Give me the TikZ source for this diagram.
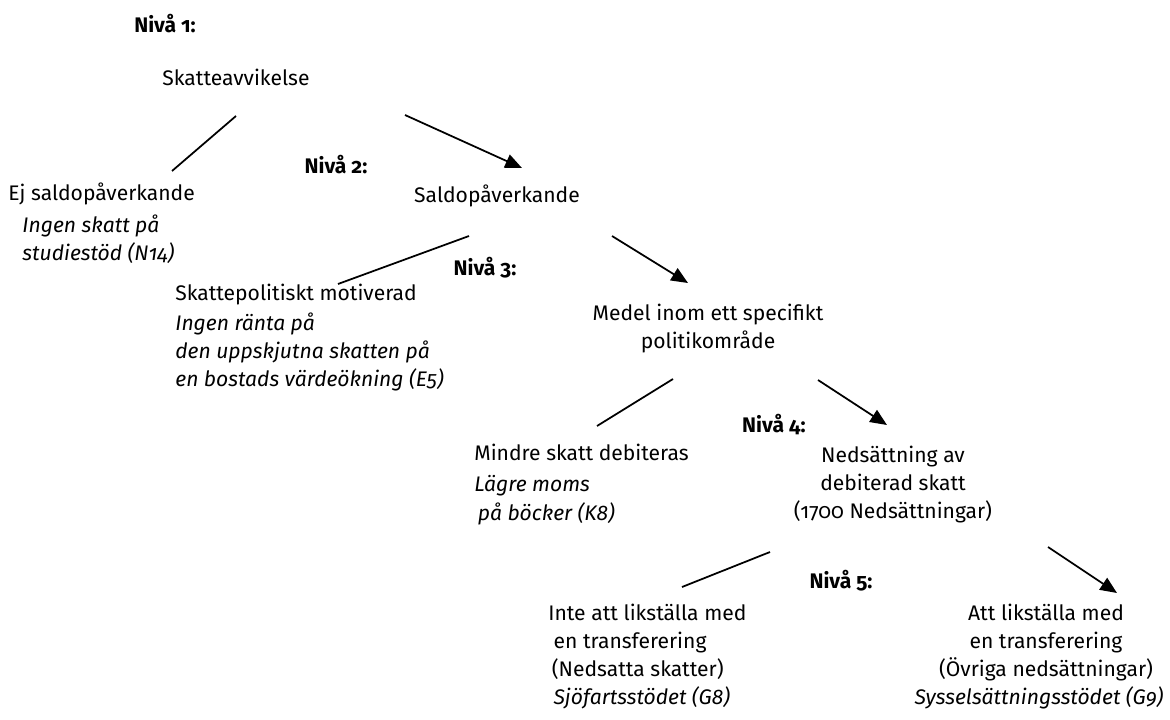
\documentclass[tikz,border=0pt]{standalone}
\usepackage{fontspec}
\setmainfont{Fira Sans}[Numbers=OldStyle]
\usetikzlibrary{arrows.meta}

\begin{document}
\begin{tikzpicture}[x=0.02cm,y=-0.02cm,>={Triangle[length=9.5pt,width=8pt]},
 every node/.style={inner sep=0pt,font=\fontsize{12}{16}\selectfont},
 niva/.style={anchor=base,font=\fontsize{12}{16}\selectfont\bfseries},
 term/.style={anchor=base},
 blk/.style={anchor=north west,align=left,yshift=10pt},
 cblk/.style={anchor=north,align=center,yshift=10pt},
 tie/.style={line width=1pt},
 pil/.style={line width=1pt,->}]
\useasboundingbox (0,0) rectangle (1170,720);
% levels and terms
\node[niva] (n1) at (165,32) {Nivå 1:};
\node[term] (skatt) at (236,85) {Skatteavvikelse};
\node[niva] (n2) at (336,173) {Nivå 2:};
\node[blk] (ej) at (8,200) {\rule{0pt}{10pt}Ej saldopåverkande\\[2pt]
 \hspace*{8pt}\textit{Ingen skatt på}\\\hspace*{8pt}\textit{studiestöd (N14)}};
\node[term] (saldo) at (497,202) {Saldopåverkande};
\node[niva] (n3) at (485,275) {Nivå 3:};
\node[blk] (polit) at (175,300) {\rule{0pt}{10pt}Skattepolitiskt motiverad\\[1pt]
 \textit{Ingen ränta på}\\\textit{den uppskjutna skatten på}\\\textit{en bostads värdeökning (E5)}};
\node[cblk] (medel) at (708,320) {\rule{0pt}{10pt}Medel inom ett specifikt\\politikområde};
\node[niva] (n4) at (774,432) {Nivå 4:};
\node[blk] (mindre) at (474,460) {\rule{0pt}{10pt}Mindre skatt debiteras\\[2pt]
 \textit{Lägre moms}\\\hspace*{2pt}\textit{på böcker (K8)}};
\node[cblk] (neds) at (893,462) {\rule{0pt}{10pt}Nedsättning av\\debiterad skatt\\(1700 Nedsättningar)};
\node[niva] (n5) at (841,588) {Nivå 5:};
\node[blk] (inte) at (548,620) {\rule{0pt}{10pt}Inte att likställa med\\\hspace*{3pt}en transferering\\
 \hspace*{2pt}(Nedsatta skatter)\\\hspace*{3pt}\textit{Sjöfartsstödet (G8)}};
\node[cblk] (att) at (1046,620) {\rule{0pt}{10pt}Att likställa med\\en transferering\\
 (Övriga nedsättningar)\\\textit{Sysselsättningsstödet (G9)}\hspace*{8pt}};
% connector ends
\coordinate (skatt-v) at (236,116); \coordinate (ej-n) at (172,171);
\coordinate (skatt-h) at (405,115); \coordinate (saldo-n) at (522,168);
\coordinate (saldo-v) at (469,236); \coordinate (polit-n) at (338,284);
\coordinate (saldo-h) at (612,236); \coordinate (medel-n) at (688,283);
\coordinate (medel-v) at (673,379); \coordinate (mindre-n) at (597,426);
\coordinate (medel-h) at (818,380); \coordinate (neds-n) at (887,425);
\coordinate (neds-v) at (770,552); \coordinate (inte-n) at (682,587);
\coordinate (neds-h) at (1048,547); \coordinate (att-n) at (1117,593);
\draw[tie] (skatt-v)--(ej-n);
\draw[pil] (skatt-h)--(saldo-n);
\draw[tie] (saldo-v)--(polit-n);
\draw[pil] (saldo-h)--(medel-n);
\draw[tie] (medel-v)--(mindre-n);
\draw[pil] (medel-h)--(neds-n);
\draw[tie] (neds-v)--(inte-n);
\draw[pil] (neds-h)--(att-n);
\end{tikzpicture}
\end{document}
